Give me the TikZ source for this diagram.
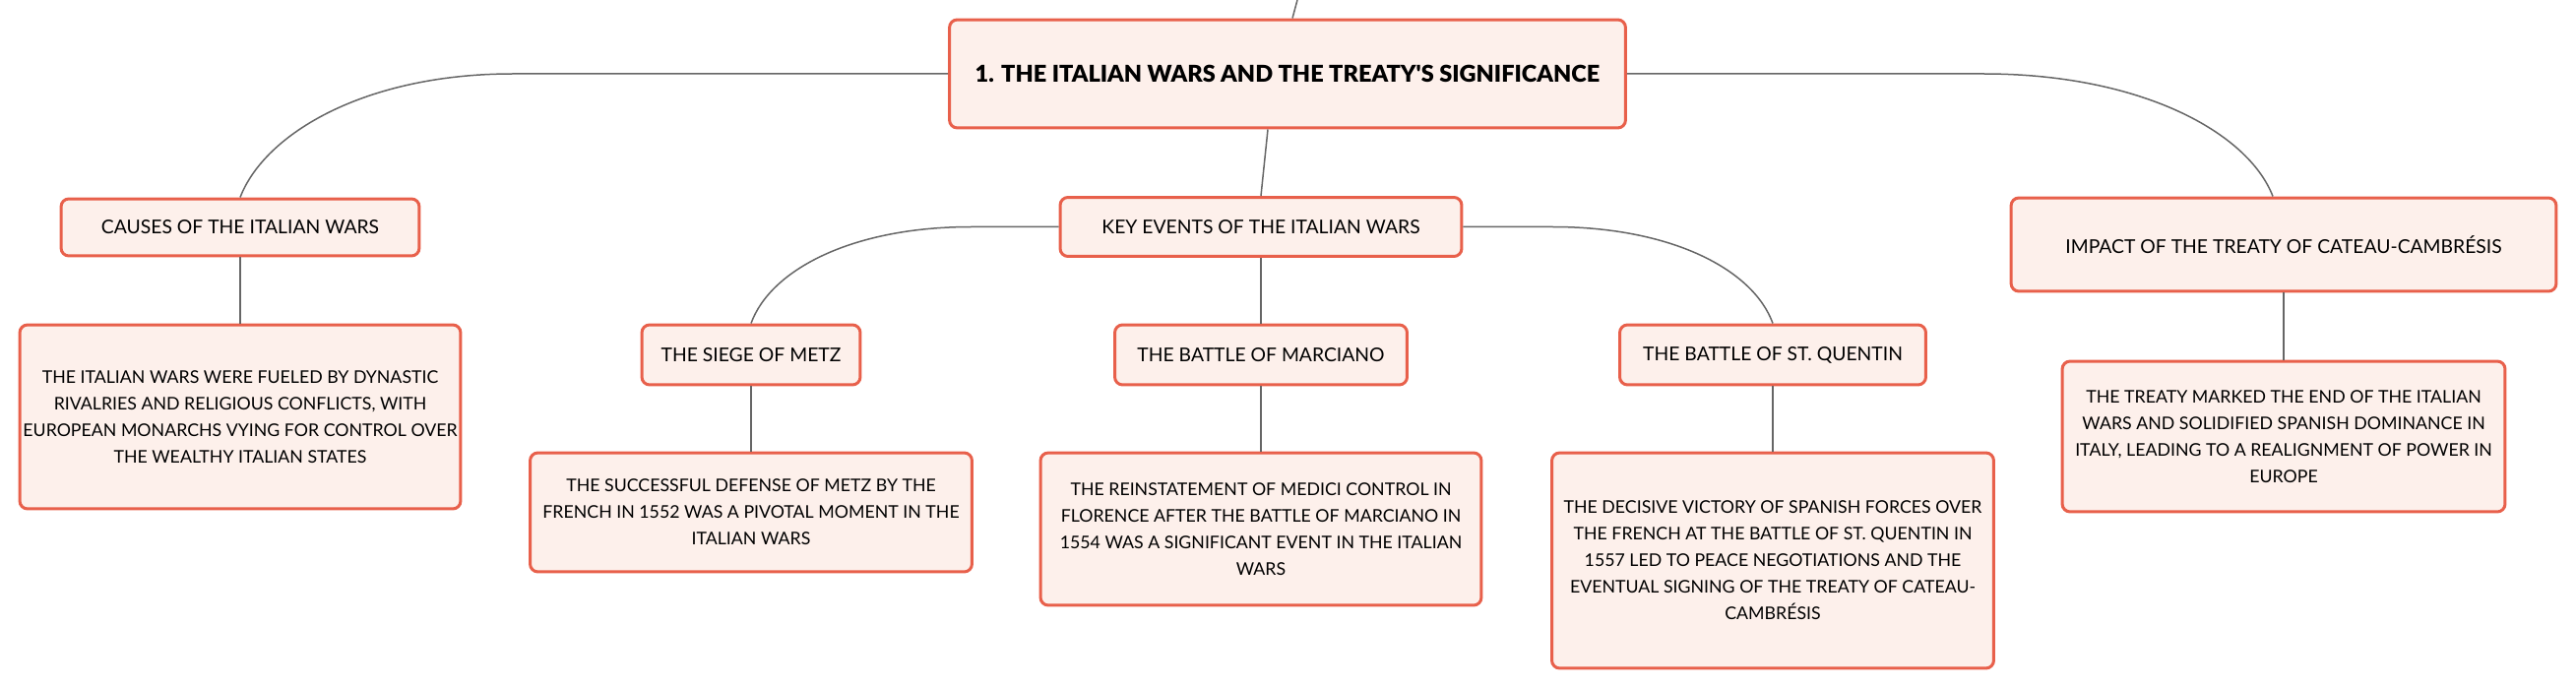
\documentclass[tikz,border=0pt]{standalone}
\usepackage{fontspec}
\setmainfont{Lato}
\newfontfamily\titlefont{Lato Black}
\definecolor{iwBorder}{HTML}{E8604B}
\definecolor{iwCard}{HTML}{FDF0EB}
\definecolor{iwLink}{HTML}{666666}
\usepackage{tikz}
\usetikzlibrary{calc,positioning}

\tikzset{
  mapbox/.style={draw=iwBorder, fill=iwCard, line width=0.06cm, rounded corners=0.16cm,
    inner sep=0pt, align=center, font=\fontsize{10.1}{15.4}\selectfont},
  maplabel/.style={mapbox, font=\fontsize{11}{15}\selectfont},
  maplink/.style={draw=iwLink, line width=0.03cm}
}

\begin{document}
\begin{tikzpicture}[x=0.02cm, y=-0.02cm]
  \useasboundingbox (0,0) rectangle (2617,699);

  % root
  \node[mapbox, minimum width=13.74cm, minimum height=2.2cm, font=\fontsize{13.4}{15}\titlefont]
    (root) at (1308,75) {1. THE ITALIAN WARS AND THE TREATY'S SIGNIFICANCE};
  \coordinate (up) at (1318,0);

  % first level
  \node[maplabel, minimum width=7.28cm, minimum height=1.16cm] (causes) at (244,231) {CAUSES OF THE ITALIAN WARS};
  \node[maplabel, minimum width=8.16cm, minimum height=1.2cm] (events) at (1281,230.5) {KEY EVENTS OF THE ITALIAN WARS};
  \node[maplabel, minimum width=11.08cm, minimum height=1.9cm] (impact) at (2320,248.5) {IMPACT OF THE TREATY OF CATEAU-CAMBRÉSIS};

  % the three battles
  \node[maplabel, minimum width=4.44cm, minimum height=1.22cm] (metz) at (763,360.5) {THE SIEGE OF METZ};
  \node[maplabel, minimum width=5.94cm, minimum height=1.22cm] (marciano) at (1281,360.5) {THE BATTLE OF MARCIANO};
  \node[maplabel, minimum width=6.22cm, minimum height=1.22cm] (quentin) at (1801,360.5) {THE BATTLE OF ST. QUENTIN};

  % detail cards
  \node[mapbox, minimum width=8.96cm, minimum height=3.74cm] (causesText) at (244,423.5)
    {THE ITALIAN WARS WERE FUELED BY DYNASTIC\\ RIVALRIES AND RELIGIOUS CONFLICTS, WITH\\ EUROPEAN MONARCHS VYING FOR CONTROL OVER\\ THE WEALTHY ITALIAN STATES};
  \node[mapbox, minimum width=8.98cm, minimum height=2.42cm] (metzText) at (763,520.5)
    {THE SUCCESSFUL DEFENSE OF METZ BY THE\\ FRENCH IN 1552 WAS A PIVOTAL MOMENT IN THE\\ ITALIAN WARS};
  \node[mapbox, minimum width=8.96cm, minimum height=3.1cm] (marcianoText) at (1281,537.5)
    {THE REINSTATEMENT OF MEDICI CONTROL IN\\ FLORENCE AFTER THE BATTLE OF MARCIANO IN\\ 1554 WAS A SIGNIFICANT EVENT IN THE ITALIAN\\ WARS};
  \node[mapbox, minimum width=8.98cm, minimum height=4.38cm] (quentinText) at (1801,569.5)
    {THE DECISIVE VICTORY OF SPANISH FORCES OVER\\ THE FRENCH AT THE BATTLE OF ST. QUENTIN IN\\ 1557 LED TO PEACE NEGOTIATIONS AND THE\\ EVENTUAL SIGNING OF THE TREATY OF CATEAU-\\ CAMBRÉSIS};
  \node[mapbox, minimum width=9.0cm, minimum height=3.06cm] (impactText) at (2320,443.5)
    {THE TREATY MARKED THE END OF THE ITALIAN\\ WARS AND SOLIDIFIED SPANISH DOMINANCE IN\\ ITALY, LEADING TO A REALIGNMENT OF POWER IN\\ EUROPE};

  % links
  \draw[maplink] ([xshift=0.1cm]root.north) -- (up);
  \draw[maplink] (root.west) -- ++(-442,0) .. controls +(-150,0) and +(25,-65) .. (causes.north);
  \draw[maplink] (root.east) -- ++(362,0) .. controls +(160,0) and +(-25,-65) .. ([xshift=-0.22cm]impact.north);
  \draw[maplink] ([xshift=-0.4cm]root.south) -- (events.north);
  \draw[maplink] (events.west) -- ++(-89,0) .. controls +(-120,0) and +(20,-55) .. (metz.north);
  \draw[maplink] (events.east) -- ++(91,0) .. controls +(120,0) and +(-20,-55) .. (quentin.north);
  \draw[maplink] (events) -- (marciano);
  \draw[maplink] (causes) -- (causesText);
  \draw[maplink] (metz) -- (metzText);
  \draw[maplink] (marciano) -- (marcianoText);
  \draw[maplink] (quentin) -- (quentinText);
  \draw[maplink] (impact) -- (impactText);
\end{tikzpicture}
\end{document}
